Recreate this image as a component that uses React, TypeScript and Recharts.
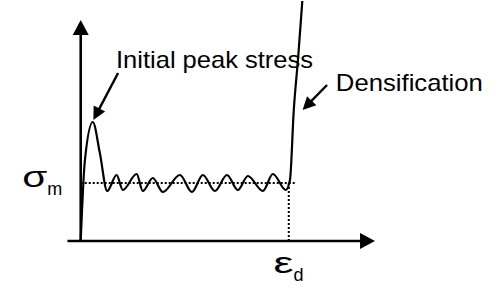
import React from 'react';
import { ComposedChart, Line, XAxis, YAxis, ReferenceLine, ReferenceDot } from 'recharts';

// schematic stress-strain curve of a cellular material (arbitrary units)
const strain = [0, 1.4, 4.1, 6.5, 9.0, 12.2, 14.3, 19.0, 21.1, 24.5, 27.9, 33.7, 37.8, 41.5, 45.6, 49.7, 53.4, 56.8, 61.9, 65.3, 69.7, 71.1, 72.4, 73.9, 75.3];
const stress = [0, 40, 59.5, 44, 25, 33, 25.5, 33.5, 25, 31.5, 24.5, 33, 24.5, 33, 25, 33, 25.5, 32.5, 25, 33.5, 25.5, 30.5, 65.5, 92, 120];

const plateauStress = 29; // sigma_m
const densStrain = 70.7; // epsilon_d
const plateauEnd = 72.8;

const data = strain.map((x, i) => ({ x, y: stress[i] }));

const FONT = '"Liberation Sans", Arial, sans-serif';

const arrow = (head: number, half: number, width: number) => (props: any) => {
  const { x1, y1, x2, y2 } = props;
  const dx = x2 - x1;
  const dy = y2 - y1;
  const len = Math.hypot(dx, dy) || 1;
  const ux = dx / len;
  const uy = dy / len;
  const bx = x2 - ux * head;
  const by = y2 - uy * head;
  return (
    <g>
      <line x1={x1} y1={y1} x2={bx + ux} y2={by + uy} stroke="#000" strokeWidth={width} />
      <polygon
        points={`${x2},${y2} ${bx - uy * half},${by + ux * half} ${bx + uy * half},${by - ux * half}`}
        fill="#000"
      />
    </g>
  );
};

const label = (text: string, size: number, length: number, sub?: string) => (props: any) => {
  const { cx, cy } = props;
  return (
    <text x={cx} y={cy} fontFamily={FONT} fontSize={size} fill="#000">
      <tspan textLength={length} lengthAdjust="spacingAndGlyphs">{text}</tspan>
      {sub ? <tspan fontSize={size * 0.6} dy={size * 0.25}>{sub}</tspan> : null}
    </text>
  );
};

export default function App() {
  return (
    <div style={{ position: 'absolute', left: 0, top: 0, width: 503, height: 289, background: '#fff' }}>
      <ComposedChart width={503} height={289} data={data} margin={{ top: 1, right: 128, bottom: 48, left: 66 }}>
        <XAxis type="number" dataKey="x" domain={[-5, 100]} hide allowDataOverflow />
        <YAxis type="number" domain={[0, 120]} hide allowDataOverflow />

        <ReferenceLine
          segment={[{ x: 0, y: plateauStress }, { x: plateauEnd, y: plateauStress }]}
          stroke="#000"
          strokeWidth={2}
          strokeDasharray="2 2"
        />
        <ReferenceLine
          segment={[{ x: densStrain, y: plateauStress }, { x: densStrain, y: 0 }]}
          stroke="#000"
          strokeWidth={2}
          strokeDasharray="2 2"
        />

        <ReferenceLine segment={[{ x: 0, y: 0 }, { x: 0, y: 110.5 }]} shape={arrow(15, 8, 2.6)} />
        <ReferenceLine segment={[{ x: -4.5, y: 0 }, { x: 100, y: 0 }]} shape={arrow(15, 8, 2.6)} />

        <Line
          type="monotone"
          dataKey="y"
          stroke="#000"
          strokeWidth={2.2}
          dot={false}
          isAnimationActive={false}
        />

        <ReferenceLine segment={[{ x: 12.7, y: 84 }, { x: 4.3, y: 60.5 }]} shape={arrow(13, 6.5, 2.4)} />
        <ReferenceLine segment={[{ x: 83.7, y: 78 }, { x: 75.4, y: 65.5 }]} shape={arrow(13, 6.5, 2.4)} />

        <ReferenceDot x={12} y={86.5} r={0} ifOverflow="visible" shape={label('Initial peak stress', 24, 197)} />
        <ReferenceDot x={86.7} y={75} r={0} ifOverflow="visible" shape={label('Densification', 24, 147)} />
        <ReferenceDot x={-19.9} y={27} r={0} ifOverflow="visible" shape={label('σ', 30, 25, 'm')} />
        <ReferenceDot x={65.5} y={-16} r={0} ifOverflow="visible" shape={label('ε', 30, 20, 'd')} />
      </ComposedChart>
    </div>
  );
}
